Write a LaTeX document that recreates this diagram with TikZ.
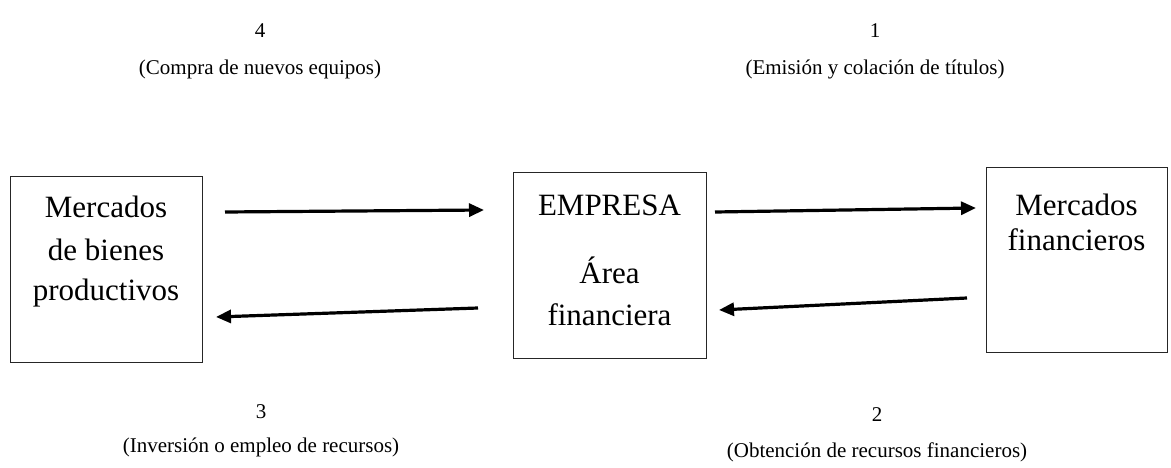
\documentclass[tikz,border=0pt]{standalone}
\usepackage{fontspec}
\setmainfont{Liberation Serif}
\usetikzlibrary{arrows.meta}
\begin{document}
\begin{tikzpicture}[x=1pt,y=-1pt,
  boxshape/.style={draw=black!85,line width=1pt},
  boxtext/.style={anchor=base,inner sep=0pt,font=\fontsize{31}{37}\selectfont},
  lbl/.style={anchor=base,inner sep=0pt,font=\fontsize{21}{25}\selectfont},
  flow/.style={line width=3.2pt,-{Triangle[length=15pt,width=13pt]}}]
\useasboundingbox (0,0) rectangle (1171,468);
% boxes
\node[boxshape,minimum width=192pt,minimum height=185pt,inner sep=0pt] (bienes) at (106,269.5) {};
\node[boxshape,minimum width=193pt,minimum height=185pt,inner sep=0pt] (empresa) at (609.5,265.5) {};
\node[boxshape,minimum width=181pt,minimum height=184pt,inner sep=0pt] (financ) at (1076.5,260) {};
% box texts
\node[boxtext] (b1) at (106,218) {Mercados};
\node[boxtext] (b2) at (106,260) {de bienes};
\node[boxtext] (b3) at (106,300) {productivos};
\node[boxtext] (e1) at (609.5,215) {EMPRESA};
\node[boxtext] (e2) at (609.5,283) {Área};
\node[boxtext] (e3) at (609.5,325) {financiera};
\node[boxtext] (f1) at (1076.5,215) {Mercados};
\node[boxtext] (f2) at (1076.5,251) {financieros};
% labels
\node[lbl] (n4) at (260,38) {4};
\node[lbl] (t4) at (260,75) {(Compra de nuevos equipos)};
\node[lbl] (n1) at (875,38) {1};
\node[lbl] (t1) at (875,75) {(Emisión y colación de títulos)};
\node[lbl] (n3) at (261,418) {3};
\node[lbl] (t3) at (261,452) {(Inversión o empleo de recursos)};
\node[lbl] (n2) at (877,421) {2};
\node[lbl] (t2) at (877,457) {(Obtención de recursos financieros)};
% arrow endpoints
\coordinate (a1s) at (225,212); \coordinate (a1e) at (484,210);
\coordinate (a2s) at (478,308); \coordinate (a2e) at (216,317);
\coordinate (a3s) at (715,212); \coordinate (a3e) at (976,208);
\coordinate (a4s) at (967,298); \coordinate (a4e) at (719,310);
\draw[flow] (a1s) -- (a1e);
\draw[flow] (a2s) -- (a2e);
\draw[flow] (a3s) -- (a3e);
\draw[flow] (a4s) -- (a4e);
\end{tikzpicture}
\end{document}
